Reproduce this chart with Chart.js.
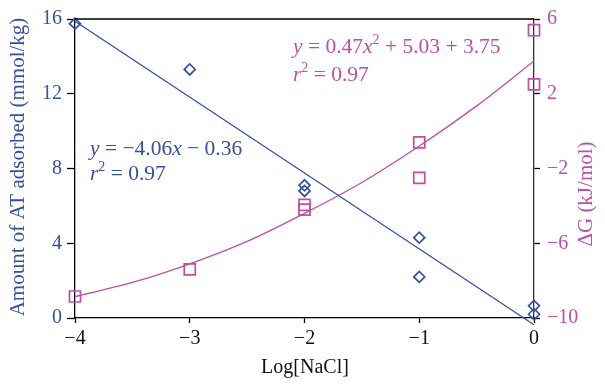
<!DOCTYPE html>
<html>
<head>
<meta charset="utf-8">
<script src="https://cdn.jsdelivr.net/npm/chart.js@4.4.1/dist/chart.umd.min.js"></script>
<style>
  html, body { margin: 0; padding: 0; background: #fff; }
  #wrap { width: 605px; height: 385px; position: relative; }
</style>
</head>
<body>
<div id="wrap"><canvas id="chart"></canvas></div>
<script>
// measured points
const logNaCl = [-4, -3, -2, -2, -1, -1, 0, 0];
const adsorbed = [15.75, 13.3, 7.1, 6.8, 4.3, 2.2, 0.65, 0.2];
const deltaG = [-8.85, -7.4, -3.95, -4.2, -0.6, -2.5, 5.4, 2.5];

// fitted lines
const linFitX = [-4, 0];
const linFitY = [15.88, -0.36];
const curveX = [-4, -3.5, -3, -2.5, -2, -1.5, -1, -0.5, 0];
const curveY = [-8.85, -8.1, -7.1, -5.9, -4.4, -2.75, -0.8, 1.35, 3.75];

const leftTicks = [0, 4, 8, 12, 16];
const rightTicks = [-10, -6, -2, 2, 6];
const xTicks = [-4, -3, -2, -1, 0];

const BLUE = '#3451a3';
const PINK = '#bf4fa6';
const SERIF = '"Liberation Serif", "DejaVu Serif", serif';

const pts = (xs, ys) => xs.map((x, i) => ({ x, y: ys[i] }));
const minus = v => String(v).replace('-', '\u2212');

// draws text made of plain/italic/superscript pieces
function richText(ctx, parts, x, y, color, size) {
  ctx.fillStyle = color;
  ctx.textBaseline = 'alphabetic';
  ctx.textAlign = 'left';
  parts.forEach(([txt, style]) => {
    const sup = style === 'sup';
    const fs = sup ? size * 0.65 : size;
    ctx.font = `${style === 'i' ? 'italic ' : ''}${fs}px ${SERIF}`;
    ctx.fillText(txt, x, sup ? y - size * 0.42 : y);
    x += ctx.measureText(txt).width;
  });
}

const decorations = {
  id: 'decorations',
  afterDraw(chart) {
    const { ctx, chartArea: a } = chart;
    ctx.save();
    ctx.strokeStyle = '#000';
    ctx.lineWidth = 1.3;
    ctx.beginPath();
    ctx.moveTo(a.left, a.top);
    ctx.lineTo(a.right, a.top);
    ctx.stroke();

    richText(ctx, [['y', 'i'], [' = 0.47', ''], ['x', 'i'], ['2', 'sup'], [' + 5.03 + 3.75', '']], 293, 53, PINK, 21.5);
    richText(ctx, [['r', 'i'], ['2', 'sup'], [' = 0.97', '']], 293, 81, PINK, 21.5);
    richText(ctx, [['y', 'i'], [' = \u22124.06', ''], ['x', 'i'], [' \u2212 0.36', '']], 90, 155, BLUE, 21.5);
    richText(ctx, [['r', 'i'], ['2', 'sup'], [' = 0.97', '']], 90, 180, BLUE, 21.5);

    ctx.font = `20px ${SERIF}`;
    ctx.textAlign = 'center';
    ctx.textBaseline = 'middle';
    ctx.fillStyle = '#111';
    ctx.fillText('Log[NaCl]', 305, 368);

    ctx.save();
    ctx.translate(18, 167);
    ctx.rotate(-Math.PI / 2);
    ctx.font = `21px ${SERIF}`;
    ctx.fillStyle = BLUE;
    ctx.fillText('Amount of AT adsorbed (mmol/kg)', 0, 0);
    ctx.restore();

    ctx.save();
    ctx.translate(586, 194);
    ctx.rotate(-Math.PI / 2);
    ctx.font = `21px ${SERIF}`;
    ctx.fillStyle = PINK;
    ctx.fillText('\u0394G (kJ/mol)', 0, 0);
    ctx.restore();
    ctx.restore();
  },
};

new Chart(document.getElementById('chart'), {
  type: 'scatter',
  data: {
    datasets: [
      {
        data: pts(linFitX, linFitY),
        showLine: true,
        borderColor: BLUE,
        borderWidth: 1.3,
        pointRadius: 0,
        yAxisID: 'y',
        clip: false,
      },
      {
        data: pts(curveX, curveY),
        showLine: true,
        borderColor: PINK,
        borderWidth: 1.3,
        pointRadius: 0,
        cubicInterpolationMode: 'monotone',
        yAxisID: 'y2',
      },
      {
        data: pts(logNaCl, adsorbed),
        pointStyle: 'rectRot',
        pointRadius: 5.5,
        borderColor: BLUE,
        borderWidth: 1.7,
        backgroundColor: 'rgba(255,255,255,0)',
        yAxisID: 'y',
        clip: false,
      },
      {
        data: pts(logNaCl, deltaG),
        pointStyle: 'rect',
        pointRadius: 7.8,
        borderColor: PINK,
        borderWidth: 1.7,
        backgroundColor: 'rgba(255,255,255,0)',
        yAxisID: 'y2',
        clip: false,
      },
    ],
  },
  options: {
    responsive: true,
    maintainAspectRatio: false,
    animation: false,
    layout: { padding: { top: 13, left: 0, right: 0, bottom: 0 } },
    plugins: { legend: { display: false }, tooltip: { enabled: false } },
    scales: {
      x: {
        type: 'linear',
        min: -4,
        max: 0,
        afterBuildTicks: s => { s.ticks = xTicks.map(value => ({ value })); },
        afterFit: s => { s.height = 67; },
        ticks: { color: '#111', font: { family: SERIF, size: 20 }, padding: 4, callback: minus },
        grid: { drawOnChartArea: false, tickLength: 5, tickColor: '#000', tickWidth: 1.3 },
        border: { color: '#000', width: 1.3 },
      },
      y: {
        position: 'left',
        min: 0,
        max: 16,
        afterBuildTicks: s => { s.ticks = leftTicks.map(value => ({ value })); },
        afterFit: s => { s.width = 75; },
        ticks: { color: BLUE, font: { family: SERIF, size: 20 }, padding: 5, callback: minus },
        grid: { drawOnChartArea: false, tickLength: 8, tickColor: '#000', tickWidth: 1.3 },
        border: { color: '#000', width: 1.3 },
      },
      y2: {
        position: 'right',
        min: -10,
        max: 6,
        afterBuildTicks: s => { s.ticks = rightTicks.map(value => ({ value })); },
        afterFit: s => { s.width = 71; },
        ticks: { color: PINK, font: { family: SERIF, size: 20 }, padding: 7, callback: minus },
        grid: { drawOnChartArea: false, tickLength: 6, tickColor: '#000', tickWidth: 1.3 },
        border: { color: '#333', width: 1.3 },
      },
    },
  },
  plugins: [decorations],
});
</script>
</body>
</html>
